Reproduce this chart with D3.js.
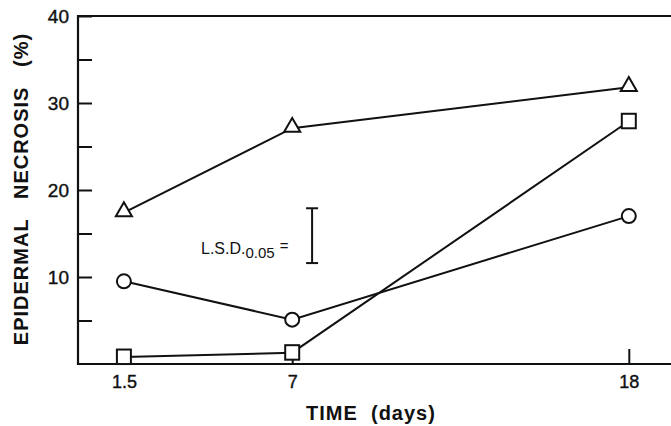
<!DOCTYPE html>
<html><head><meta charset="utf-8">
<script src="https://cdn.jsdelivr.net/npm/d3@7"></script>
<style>body{margin:0;background:#fff}svg{display:block}text{font-family:"Liberation Sans",Arial,sans-serif;fill:#111}</style>
</head><body><svg id="c" width="671" height="426"></svg>
<script>
const days = [1.5, 7, 18];
const triangle = [17.4, 27.1, 31.8];
const circle = [9.5, 5.1, 17.0];
const square = [0.8, 1.3, 27.9];
const yMajorTicks = [10, 20, 30, 40];
const yMinorTicks = [5, 15, 25, 35];
const xTicks = [1.5, 7, 18];
const xTickLabels = ["1.5", "7", "18"];
const lsdLow = 11.6, lsdHigh = 17.9, lsdDay = 7.65;

const svg = d3.select("#c");
const x = d3.scaleLinear().domain([0, 20]).range([78, 690]);
const y = d3.scaleLinear().domain([0, 40]).range([364, 16]);
const ink = "#111";
const FF = "Liberation Sans, Arial, sans-serif";

// frame
svg.append("line").attr("x1", x(0)).attr("x2", 671).attr("y1", y(40)).attr("y2", y(40)).attr("stroke", ink).attr("stroke-width", 2.2);
svg.append("line").attr("x1", x(0)).attr("x2", 671).attr("y1", y(0)).attr("y2", y(0)).attr("stroke", ink).attr("stroke-width", 2.2);
svg.append("line").attr("x1", x(0)).attr("x2", x(0)).attr("y1", y(0)+1).attr("y2", y(40)-1).attr("stroke", ink).attr("stroke-width", 2.2);

// y ticks
const yAxis = d3.axisLeft(y).tickValues(yMajorTicks.concat(yMinorTicks)).tickSize(-14)
  .tickFormat(d => yMajorTicks.includes(d) ? d : "").tickPadding(9);
const ga = svg.append("g").attr("transform", `translate(${x(0)},0)`).call(yAxis);
ga.select(".domain").remove();
ga.selectAll("line").attr("stroke", ink).attr("stroke-width", 2);
ga.selectAll("text").attr("font-size", 19).attr("fill", ink).attr("stroke", ink).attr("stroke-width", 0.4).style("font-family", FF);

// x ticks
const xAxis = d3.axisBottom(x).tickValues(xTicks).tickSize(-15).tickPadding(11)
  .tickFormat((d, i) => xTickLabels[i]);
const gx = svg.append("g").attr("transform", `translate(0,${y(0)})`).call(xAxis);
gx.select(".domain").remove();
gx.selectAll("line").attr("stroke", ink).attr("stroke-width", 2);
gx.selectAll("text").attr("font-size", 18).attr("fill", ink).attr("stroke", ink).attr("stroke-width", 0.4).style("font-family", FF);

// titles
svg.append("text").attr("x", 371).attr("y", 420).attr("text-anchor", "middle").attr("font-size", 20).attr("font-weight", "bold")
  .attr("letter-spacing", 1).style("white-space", "pre").text("TIME  (days)");
svg.append("text").attr("transform", "translate(28,189) rotate(-90)").attr("text-anchor", "middle").attr("font-size", 20).attr("font-weight", "bold")
  .attr("letter-spacing", 1).style("white-space", "pre").text("EPIDERMAL   NECROSIS   (%)");

// lines
const line = d3.line().x((d, i) => x(days[i])).y(d => y(d));
[triangle, circle, square].forEach(s => {
  svg.append("path").attr("d", line(s)).attr("fill", "none").attr("stroke", ink).attr("stroke-width", 2);
});

// markers
svg.selectAll(".tri").data(triangle).join("path")
  .attr("d", d3.symbol().type(d3.symbolTriangle).size(112)())
  .attr("transform", (d, i) => `translate(${x(days[i])},${y(d)-1})`)
  .attr("fill", "#fff").attr("stroke", ink).attr("stroke-width", 2);
svg.selectAll(".cir").data(circle).join("circle")
  .attr("cx", (d, i) => x(days[i])).attr("cy", d => y(d)).attr("r", 7)
  .attr("fill", "#fff").attr("stroke", ink).attr("stroke-width", 2);
svg.selectAll(".sq").data(square).join("rect")
  .attr("x", (d, i) => x(days[i]) - 7).attr("y", d => y(d) - 7.5).attr("width", 14).attr("height", 14.5)
  .attr("fill", "#fff").attr("stroke", ink).attr("stroke-width", 2);

// LSD bar
const lx = x(lsdDay);
svg.append("line").attr("x1", lx).attr("x2", lx).attr("y1", y(lsdLow)).attr("y2", y(lsdHigh)).attr("stroke", ink).attr("stroke-width", 2);
[lsdLow, lsdHigh].forEach(v => {
  svg.append("line").attr("x1", lx - 6).attr("x2", lx + 6).attr("y1", y(v)).attr("y2", y(v)).attr("stroke", ink).attr("stroke-width", 2);
});
const t = svg.append("text").attr("x", 201).attr("y", 254).attr("font-size", 16);
t.append("tspan").text("L.S.D.");
t.append("tspan").attr("dy", 4).attr("font-size", 15).text("0.05");
t.append("tspan").attr("dy", -7).attr("dx", 5).attr("font-size", 15).text("=");
</script></body></html>
